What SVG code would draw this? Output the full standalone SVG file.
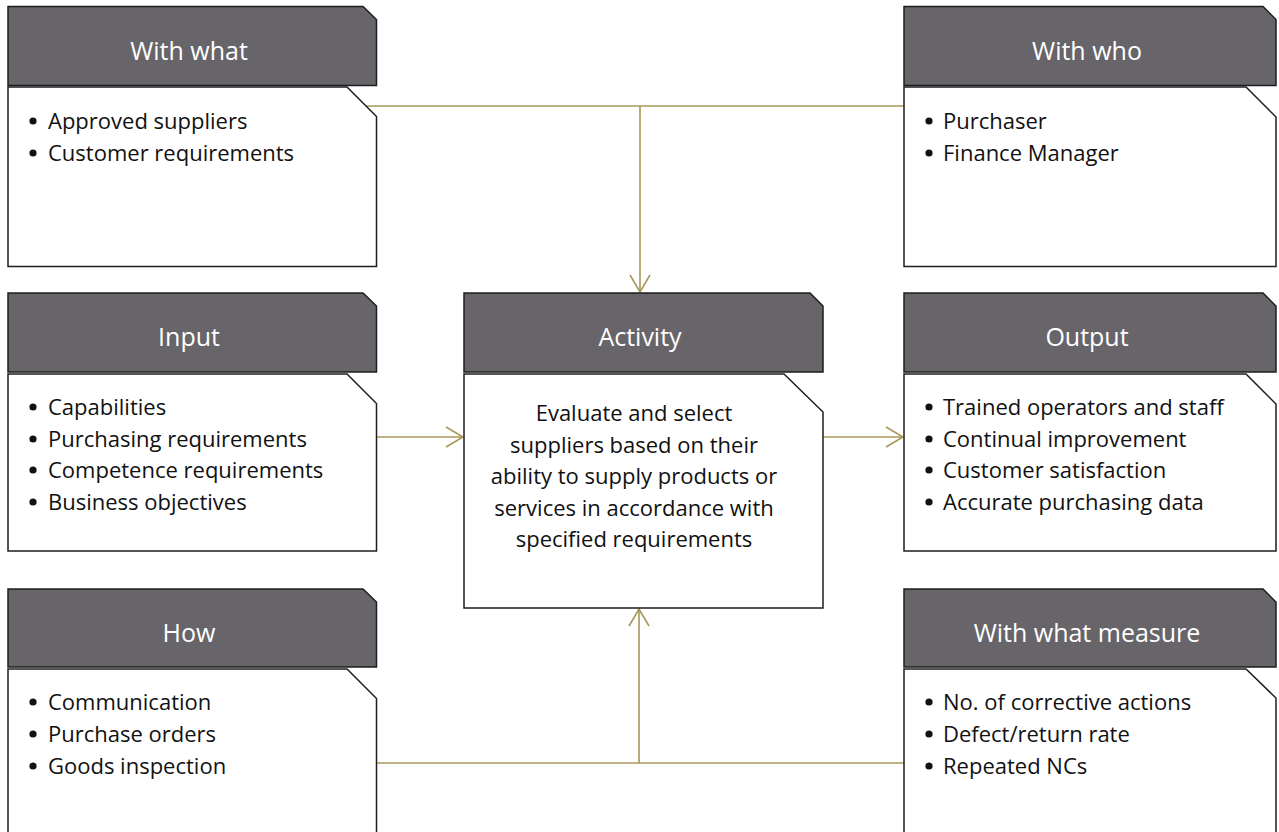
<svg xmlns="http://www.w3.org/2000/svg" width="1279" height="832" viewBox="0 0 1279 832">
<style>
.hdr{fill:#67646a;stroke:#1e1e1e;stroke-width:1.5}
.body{fill:#ffffff;stroke:#1e1e1e;stroke-width:1.5}
.ht{font-family:"Open Sans","Noto Sans",sans-serif;font-size:25px;fill:#ffffff;text-anchor:middle}
.bt{font-family:"Open Sans","Noto Sans",sans-serif;font-size:22px;fill:#111111}
.dot{fill:#111111}
.ct{font-family:"Open Sans","Noto Sans",sans-serif;font-size:22px;fill:#111111;text-anchor:middle}
.conn{fill:none;stroke:#a8975a;stroke-width:1.6}
</style>
<defs>
<marker id="arr" viewBox="-19 -12 21 24" markerWidth="21" markerHeight="24" refX="0" refY="0" orient="auto" markerUnits="userSpaceOnUse">
<path d="M-17,-10 L0,0 L-17,10" fill="none" stroke="#a8975a" stroke-width="1.6"/>
</marker>
</defs>
<rect width="1279" height="832" fill="#ffffff"/>
<g id="connectors">
<path class="conn" d="M366,106 H904"/>
<path class="conn" d="M640,106 V292" marker-end="url(#arr)"/>
<path class="conn" d="M377,437 H463" marker-end="url(#arr)"/>
<path class="conn" d="M823,437 H903" marker-end="url(#arr)"/>
<path class="conn" d="M377,763 H904"/>
<path class="conn" d="M639,763 V609" marker-end="url(#arr)"/>
</g>
<g id="with-what">
<path class="hdr" d="M8,6.5 H363 L376.5,19.5 V85.5 H8 Z"/>
<text class="ht" x="189" y="60">With what</text>
<path class="body" d="M8,87 H347 L376.5,116.5 V266.5 H8 Z"/>
<circle class="dot" cx="33" cy="121" r="3.6"/><text class="bt" x="48" y="129">Approved suppliers</text>
<circle class="dot" cx="33" cy="153" r="3.6"/><text class="bt" x="48" y="161">Customer requirements</text>
</g>
<g id="with-who">
<path class="hdr" d="M904,6.5 H1263 L1276,19.5 V85.5 H904 Z"/>
<text class="ht" x="1087" y="60">With who</text>
<path class="body" d="M904,87 H1246 L1276,117 V266.5 H904 Z"/>
<circle class="dot" cx="929" cy="121" r="3.6"/><text class="bt" x="943" y="129">Purchaser</text>
<circle class="dot" cx="929" cy="153" r="3.6"/><text class="bt" x="943" y="161">Finance Manager</text>
</g>
<g id="input">
<path class="hdr" d="M8,293 H363 L376.5,306 V372 H8 Z"/>
<text class="ht" x="189" y="346">Input</text>
<path class="body" d="M8,374 H347 L376.5,403.5 V551 H8 Z"/>
<circle class="dot" cx="33" cy="407" r="3.6"/><text class="bt" x="48" y="415">Capabilities</text>
<circle class="dot" cx="33" cy="439" r="3.6"/><text class="bt" x="48" y="447">Purchasing requirements</text>
<circle class="dot" cx="33" cy="470" r="3.6"/><text class="bt" x="48" y="478">Competence requirements</text>
<circle class="dot" cx="33" cy="502" r="3.6"/><text class="bt" x="48" y="510">Business objectives</text>
</g>
<g id="activity">
<path class="hdr" d="M464,293 H810 L823,306 V372 H464 Z"/>
<text class="ht" x="640" y="346">Activity</text>
<path class="body" d="M464,374 H784 L823,412 V608 H464 Z"/>
<text class="ct" x="634" y="421">Evaluate and select</text>
<text class="ct" x="634" y="453">suppliers based on their</text>
<text class="ct" x="634" y="484">ability to supply products or</text>
<text class="ct" x="634" y="516">services in accordance with</text>
<text class="ct" x="634" y="547">specified requirements</text>
</g>
<g id="output">
<path class="hdr" d="M904,293 H1263 L1276,306 V372 H904 Z"/>
<text class="ht" x="1087" y="346">Output</text>
<path class="body" d="M904,374 H1246 L1276,404 V551 H904 Z"/>
<circle class="dot" cx="929" cy="407" r="3.6"/><text class="bt" x="943" y="415">Trained operators and staff</text>
<circle class="dot" cx="929" cy="439" r="3.6"/><text class="bt" x="943" y="447">Continual improvement</text>
<circle class="dot" cx="929" cy="470" r="3.6"/><text class="bt" x="943" y="478">Customer satisfaction</text>
<circle class="dot" cx="929" cy="502" r="3.6"/><text class="bt" x="943" y="510">Accurate purchasing data</text>
</g>
<g id="how">
<path class="hdr" d="M8,589 H363 L376.5,602 V667 H8 Z"/>
<text class="ht" x="189" y="642">How</text>
<path class="body" d="M8,669 H347 L376.5,698.5 V845 H8 Z"/>
<circle class="dot" cx="33" cy="702" r="3.6"/><text class="bt" x="48" y="710">Communication</text>
<circle class="dot" cx="33" cy="734" r="3.6"/><text class="bt" x="48" y="742">Purchase orders</text>
<circle class="dot" cx="33" cy="766" r="3.6"/><text class="bt" x="48" y="774">Goods inspection</text>
</g>
<g id="with-what-measure">
<path class="hdr" d="M904,589 H1263 L1276,602 V667 H904 Z"/>
<text class="ht" x="1087" y="642">With what measure</text>
<path class="body" d="M904,669 H1246 L1276,698 V845 H904 Z"/>
<circle class="dot" cx="929" cy="702" r="3.6"/><text class="bt" x="943" y="710">No. of corrective actions</text>
<circle class="dot" cx="929" cy="734" r="3.6"/><text class="bt" x="943" y="742">Defect/return rate</text>
<circle class="dot" cx="929" cy="766" r="3.6"/><text class="bt" x="943" y="774">Repeated NCs</text>
</g>
</svg>
